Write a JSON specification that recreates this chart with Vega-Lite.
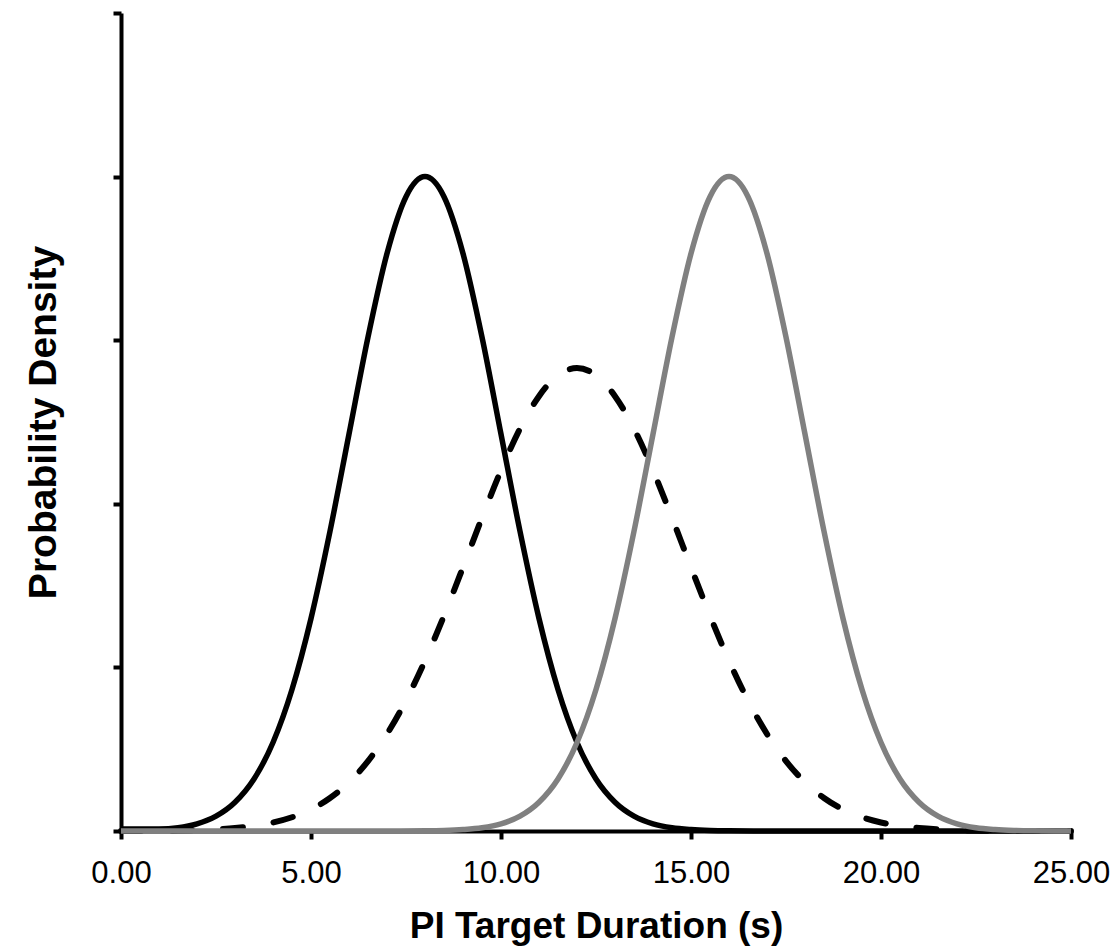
{
  "$schema": "https://vega.github.io/schema/vega-lite/v6.json",
  "width": 950,
  "height": 818,
  "autosize": "none",
  "padding": {"left": 121, "top": 13, "right": 47, "bottom": 119},
  "background": "white",
  "config": {"view": {"stroke": null}},
  "datasets": {
    "solid": [
      {"x": 0, "y": 0.012}, {"x": 0.5, "y": 0.012}, {"x": 1, "y": 0.012}, {"x": 1.5, "y": 0.02}, {"x": 2, "y": 0.044},
      {"x": 2.5, "y": 0.091}, {"x": 3, "y": 0.176}, {"x": 3.5, "y": 0.318}, {"x": 4, "y": 0.541}, {"x": 4.5, "y": 0.865},
      {"x": 5, "y": 1.299}, {"x": 5.5, "y": 1.832}, {"x": 6, "y": 2.426}, {"x": 6.5, "y": 3.019}, {"x": 7, "y": 3.53},
      {"x": 7.5, "y": 3.877}, {"x": 8, "y": 4.0}, {"x": 8.5, "y": 3.877}, {"x": 9, "y": 3.53}, {"x": 9.5, "y": 3.019},
      {"x": 10, "y": 2.426}, {"x": 10.5, "y": 1.832}, {"x": 11, "y": 1.299}, {"x": 11.5, "y": 0.865}, {"x": 12, "y": 0.541},
      {"x": 12.5, "y": 0.318}, {"x": 13, "y": 0.176}, {"x": 13.5, "y": 0.091}, {"x": 14, "y": 0.044}, {"x": 14.5, "y": 0.02},
      {"x": 15, "y": 0.009}, {"x": 15.5, "y": 0.0035}, {"x": 16, "y": 0.0013}, {"x": 17, "y": 0}, {"x": 18, "y": 0},
      {"x": 19, "y": 0}, {"x": 20, "y": 0}, {"x": 21, "y": 0}, {"x": 22, "y": 0}, {"x": 23, "y": 0}, {"x": 24, "y": 0}, {"x": 25, "y": 0}
    ],
    "dashed": [
      {"x": 0, "y": 0.0003}, {"x": 1, "y": 0.0014}, {"x": 1.5, "y": 0.0027}, {"x": 2, "y": 0.005}, {"x": 2.5, "y": 0.01},
      {"x": 3, "y": 0.018}, {"x": 3.5, "y": 0.031}, {"x": 4, "y": 0.052}, {"x": 4.5, "y": 0.084}, {"x": 5, "y": 0.132},
      {"x": 5.5, "y": 0.202}, {"x": 6, "y": 0.298}, {"x": 6.5, "y": 0.427}, {"x": 7, "y": 0.593}, {"x": 7.5, "y": 0.798},
      {"x": 8, "y": 1.041}, {"x": 8.5, "y": 1.316}, {"x": 9, "y": 1.612}, {"x": 9.5, "y": 1.915}, {"x": 10, "y": 2.204},
      {"x": 10.5, "y": 2.459}, {"x": 11, "y": 2.658}, {"x": 11.5, "y": 2.786}, {"x": 12, "y": 2.83}, {"x": 12.5, "y": 2.786},
      {"x": 13, "y": 2.658}, {"x": 13.5, "y": 2.459}, {"x": 14, "y": 2.204}, {"x": 14.5, "y": 1.915}, {"x": 15, "y": 1.612},
      {"x": 15.5, "y": 1.316}, {"x": 16, "y": 1.041}, {"x": 16.5, "y": 0.798}, {"x": 17, "y": 0.593}, {"x": 17.5, "y": 0.427},
      {"x": 18, "y": 0.298}, {"x": 18.5, "y": 0.202}, {"x": 19, "y": 0.132}, {"x": 19.5, "y": 0.084}, {"x": 20, "y": 0.052},
      {"x": 20.5, "y": 0.031}, {"x": 21, "y": 0.018}, {"x": 21.5, "y": 0.01}, {"x": 22, "y": 0.005}, {"x": 22.5, "y": 0.0027},
      {"x": 23, "y": 0.0014}, {"x": 24, "y": 0.0003}, {"x": 25, "y": 0}
    ],
    "gray": [
      {"x": 0, "y": 0}, {"x": 1, "y": 0}, {"x": 2, "y": 0}, {"x": 3, "y": 0}, {"x": 4, "y": 0}, {"x": 5, "y": 0},
      {"x": 6, "y": 0}, {"x": 7, "y": 0}, {"x": 8, "y": 0.0013}, {"x": 8.5, "y": 0.0035}, {"x": 9, "y": 0.009},
      {"x": 9.5, "y": 0.02}, {"x": 10, "y": 0.044}, {"x": 10.5, "y": 0.091}, {"x": 11, "y": 0.176}, {"x": 11.5, "y": 0.318},
      {"x": 12, "y": 0.541}, {"x": 12.5, "y": 0.865}, {"x": 13, "y": 1.299}, {"x": 13.5, "y": 1.832}, {"x": 14, "y": 2.426},
      {"x": 14.5, "y": 3.019}, {"x": 15, "y": 3.53}, {"x": 15.5, "y": 3.877}, {"x": 16, "y": 4.0}, {"x": 16.5, "y": 3.877},
      {"x": 17, "y": 3.53}, {"x": 17.5, "y": 3.019}, {"x": 18, "y": 2.426}, {"x": 18.5, "y": 1.832}, {"x": 19, "y": 1.299},
      {"x": 19.5, "y": 0.865}, {"x": 20, "y": 0.541}, {"x": 20.5, "y": 0.318}, {"x": 21, "y": 0.176}, {"x": 21.5, "y": 0.091},
      {"x": 22, "y": 0.044}, {"x": 22.5, "y": 0.02}, {"x": 23, "y": 0.009}, {"x": 23.5, "y": 0.0035}, {"x": 24, "y": 0.0013},
      {"x": 25, "y": 0}
    ]
  },
  "encoding": {
    "x": {
      "field": "x", "type": "quantitative",
      "scale": {"domain": [0, 25], "nice": false, "zero": false},
      "axis": {
        "title": "PI Target Duration (s)",
        "values": [0, 5, 10, 15, 20, 25],
        "format": ".2f",
        "grid": false,
        "domainColor": "black", "domainWidth": 4,
        "tickColor": "black", "tickWidth": 4, "tickSize": 8,
        "labelFont": "Liberation Sans", "labelFontSize": 31, "labelColor": "black", "labelPadding": 19,
        "labelFlush": false, "labelOverlap": false,
        "titleFont": "Liberation Sans", "titleFontSize": 37, "titleFontWeight": "bold", "titleColor": "black",
        "titleBaseline": "alphabetic", "titleY": 106
      }
    },
    "y": {
      "field": "y", "type": "quantitative",
      "scale": {"domain": [0, 5], "nice": false},
      "axis": {
        "title": "Probability Density",
        "values": [0, 1, 2, 3, 4, 5],
        "labels": false,
        "grid": false,
        "domainColor": "black", "domainWidth": 4,
        "tickColor": "black", "tickWidth": 4, "tickSize": 8,
        "titleFont": "Liberation Sans", "titleFontSize": 39, "titleFontWeight": "bold", "titleColor": "black",
        "titleAngle": -90, "titleAlign": "center", "titleBaseline": "alphabetic",
        "titleX": -66, "titleY": 409
      }
    }
  },
  "layer": [
    {
      "data": {"name": "solid"},
      "mark": {"type": "line", "color": "black", "strokeWidth": 5.5, "interpolate": "monotone"}
    },
    {
      "data": {"name": "dashed"},
      "mark": {"type": "line", "color": "black", "strokeWidth": 6, "interpolate": "monotone", "strokeDash": [20, 31], "strokeCap": "round"}
    },
    {
      "data": {"name": "gray"},
      "mark": {"type": "line", "color": "#808080", "strokeWidth": 5.5, "interpolate": "monotone"}
    }
  ]
}
